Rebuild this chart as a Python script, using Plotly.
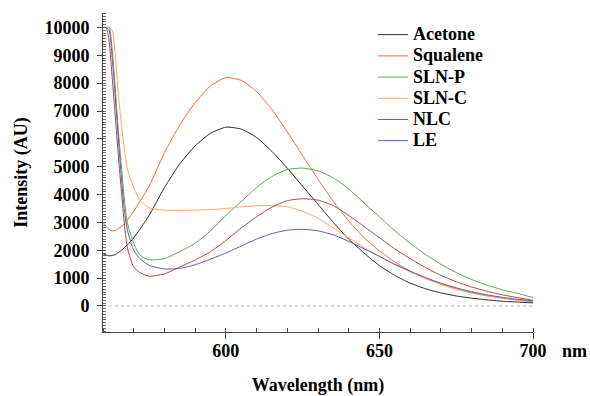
import plotly.graph_objects as go

wavelength = [560, 561, 562, 563, 564, 565, 566, 567, 568, 570, 572, 575, 580, 585, 590, 595,
              600, 605, 610, 615, 620, 625, 630, 635, 640, 645, 650, 655, 660, 665, 670, 675,
              680, 685, 690, 695, 700]

acetone = [1880, 1830, 1800, 1810, 1850, 1920, 2000, 2100, 2200, 2450, 2750, 3250, 4250, 5100, 5750, 6200,
           6420, 6350, 6050, 5550, 4950, 4300, 3650, 3000, 2400, 1900, 1450, 1100, 820, 620, 470, 360,
           280, 220, 170, 140, 110]
squalene = [3020, 2850, 2750, 2700, 2710, 2780, 2850, 2950, 3100, 3400, 3750, 4300, 5500, 6500, 7300, 7900,
            8200, 8100, 7700, 7050, 6250, 5400, 4550, 3750, 3050, 2450, 1980, 1580, 1250, 990, 780, 610,
            470, 360, 280, 210, 150]
sln_p = [10000, 10000, 10000, 9200, 7800, 6300, 5000, 3800, 2950, 2250, 1830, 1660, 1700, 1950, 2250, 2700,
         3250, 3750, 4250, 4650, 4900, 4950, 4850, 4600, 4200, 3700, 3200, 2700, 2250, 1850, 1500, 1200,
         950, 750, 580, 450, 300]
sln_c = [10000, 10000, 10000, 9900, 9000, 7600, 6500, 5600, 4900, 4250, 3800, 3520, 3440, 3430, 3440, 3460,
         3500, 3560, 3600, 3600, 3560, 3400, 3150, 2800, 2450, 2100, 1780, 1480, 1220, 990, 800, 640,
         500, 390, 300, 220, 160]
nlc = [10000, 10000, 9500, 8200, 6800, 5400, 4100, 2900, 2050, 1400, 1200, 1070, 1150, 1400, 1650, 1950,
       2350, 2800, 3200, 3550, 3780, 3850, 3800, 3600, 3250, 2850, 2450, 2050, 1700, 1380, 1100, 870,
       680, 530, 400, 300, 200]
le = [10000, 10000, 9900, 8900, 7500, 6000, 4600, 3400, 2700, 2000, 1700, 1460, 1330, 1350, 1480, 1680,
      1900, 2150, 2400, 2600, 2720, 2750, 2700, 2550, 2320, 2050, 1780, 1500, 1250, 1020, 820, 650,
      510, 400, 310, 240, 180]

series_names = ["Acetone", "Squalene", "SLN-P", "SLN-C", "NLC", "LE"]
series_values = [acetone, squalene, sln_p, sln_c, nlc, le]
series_colors = ["#2b2b2b", "#F26B3D", "#63A356", "#FFA566", "#A84A3C", "#5A5AB5"]

FONT = "Liberation Serif"

fig = go.Figure()
for name, vals, col in zip(series_names, series_values, series_colors):
    fig.add_trace(go.Scatter(
        x=wavelength, y=vals, mode="lines",
        name=f"<b><span style='font-size:18px'>{name}</span></b>",
        line=dict(color=col, width=1, shape="spline", smoothing=0.6),
    ))

fig.add_hline(y=0, line=dict(color="#b8b8a8", width=1, dash="3px,3px"), layer="below")

fig.update_layout(
    width=590, height=396,
    margin=dict(l=103, r=57, t=13, b=64),
    paper_bgcolor="white", plot_bgcolor="white",
    font=dict(family=FONT, color="black"),
    showlegend=True,
    legend=dict(x=0.628, y=0.981, xanchor="left", yanchor="top",
                font=dict(family=FONT, size=14, color="black"),
                bgcolor="rgba(0,0,0,0)", tracegroupgap=0),
    xaxis=dict(
        range=[560, 700], showgrid=False, zeroline=False, automargin=False,
        showline=True, linecolor="#444", linewidth=1,
        tickmode="linear", tick0=0, dtick=50,
        ticks="outside", ticklen=6, tickcolor="#444",
        minor=dict(ticks="inside", dtick=10, ticklen=4, tickcolor="#444"),
        tickfont=dict(family=FONT, size=18, color="black", weight="bold"),
        ticklabelstandoff=-4,
        title=dict(text="<b>Wavelength (nm)</b>", font=dict(family=FONT, size=18, color="black"), standoff=24),
    ),
    yaxis=dict(
        range=[-935, 10520], showgrid=False, zeroline=False, automargin=False,
        showline=True, linecolor="#444", linewidth=1,
        tickmode="linear", tick0=0, dtick=1000, tickformat="d",
        ticks="outside", ticklen=5, tickcolor="#444",
        minor=dict(ticks="inside", dtick=100, ticklen=3, tickcolor="#666"),
        tickfont=dict(family=FONT, size=18, color="black", weight="bold"),
        ticklabelstandoff=4,
        title=dict(text="<b>Intensity (AU)</b>", font=dict(family=FONT, size=18, color="black"), standoff=12),
    ),
    annotations=[dict(text="<b>nm</b>", xref="paper", yref="paper", x=1.097, y=-0.058,
                      xanchor="center", yanchor="middle", showarrow=False,
                      font=dict(family=FONT, size=18, color="black"))],
)

fig.write_html("out.html", config={"displayModeBar": False},
               post_script="document.body.style.margin='0';document.body.style.padding='0';")
